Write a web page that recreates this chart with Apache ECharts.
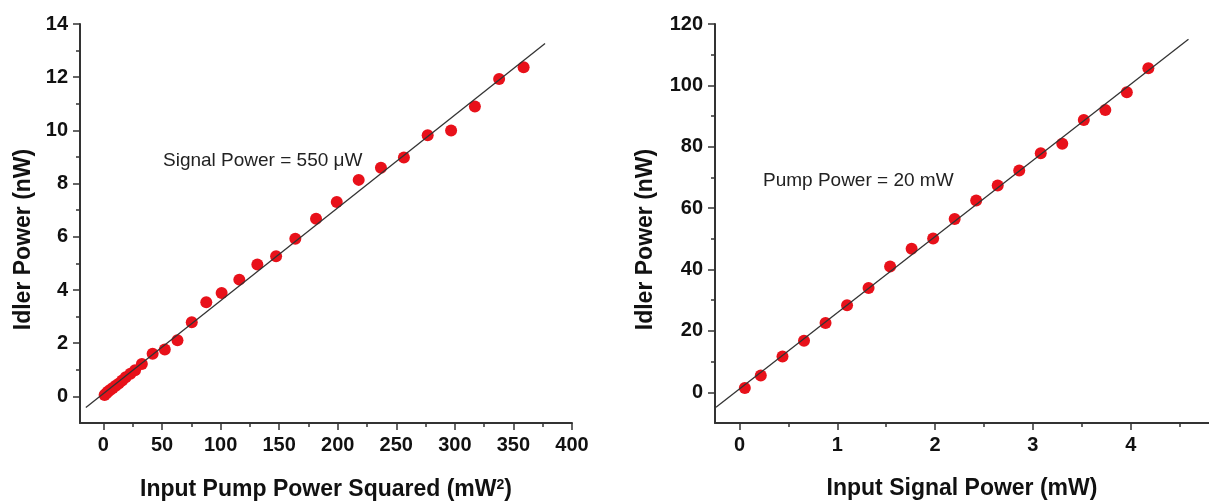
<!DOCTYPE html>
<html>
<head>
<meta charset="utf-8">
<script src="https://cdn.jsdelivr.net/npm/echarts@6/dist/echarts.min.js"></script>
<style>html,body{margin:0;padding:0;background:#fff}#c{width:1209px;height:503px}</style>
</head>
<body>
<div id="c"></div>
<script>
// Left panel: idler power vs input pump power squared
const pumpSqX = [1, 2.5, 4, 6, 8, 10.5, 13, 16, 19, 23, 27, 32.8, 42, 52.4, 63.2, 75.4, 87.8, 100.9, 116, 131.4, 147.4, 163.8, 181.5, 199.2, 217.9, 236.9, 256.5, 276.8, 296.8, 317.1, 337.8, 358.7];
const idlerL   = [0.05, 0.12, 0.18, 0.25, 0.32, 0.4, 0.48, 0.6, 0.72, 0.85, 0.98, 1.22, 1.6, 1.76, 2.11, 2.79, 3.54, 3.89, 4.39, 4.96, 5.27, 5.93, 6.68, 7.31, 8.14, 8.60, 8.98, 9.82, 10.0, 10.9, 11.93, 12.37];
const fitLX = [-15, 377];
const fitLY = [-0.42, 13.27];
// Right panel: idler power vs input signal power
const signalX = [0.055, 0.218, 0.44, 0.66, 0.88, 1.10, 1.32, 1.54, 1.76, 1.98, 2.20, 2.42, 2.64, 2.86, 3.08, 3.30, 3.52, 3.74, 3.96, 4.18];
const idlerR  = [1.4, 5.5, 11.7, 16.8, 22.6, 28.4, 34.0, 41.0, 46.8, 50.1, 56.5, 62.5, 67.4, 72.3, 77.9, 81.0, 88.7, 92.0, 97.8, 105.6];
const fitRX = [-0.24, 4.59];
const fitRY = [-4.9, 115];

// Tick labels
const xTicksL = [0, 50, 100, 150, 200, 250, 300, 350, 400];
const yTicksL = [0, 2, 4, 6, 8, 10, 12, 14];
const xTicksR = [0, 1, 2, 3, 4];
const yTicksR = [0, 20, 40, 60, 80, 100, 120];

const titleLX = 'Input Pump Power Squared (mW{sup|2})';
const titleRX = 'Input Signal Power (mW)';
const titleY = 'Idler Power (nW)';
const noteL = 'Signal Power = 550 μW';
const noteR = 'Pump Power = 20 mW';

const FONT = '"Liberation Sans", Arial, sans-serif';
const axisCol = '#333';

function minorOf(ticks, lo, hi) {
  const step = ticks[1] - ticks[0];
  const out = [];
  for (let i = -1; i < ticks.length; i++) {
    const v = (i < 0 ? ticks[0] - step : ticks[i]) + step / 2;
    if (v > lo && v < hi) out.push(v);
  }
  return out;
}

function mainAxis(isX, gi, min, max, ticks, name, gap) {
  const a = {
    type: 'value', gridIndex: gi, min: min, max: max,
    position: isX ? 'bottom' : 'left',
    name: name, nameLocation: 'middle', nameGap: gap,
    nameTextStyle: {fontFamily: FONT, fontWeight: 'bold', fontSize: 23, color: '#111',
      rich: {sup: {fontFamily: FONT, fontWeight: 'bold', fontSize: 14, color: '#111', verticalAlign: 'top', padding: [0, 0, 8, 0]}}},
    axisLine: {show: true, onZero: false, lineStyle: {color: axisCol, width: 2}},
    axisTick: {show: true, inside: false, length: 7, lineStyle: {color: axisCol, width: 1.5}, customValues: ticks},
    axisLabel: {fontFamily: FONT, fontWeight: 'bold', fontSize: 20, color: '#111', margin: 12, customValues: ticks},
    splitLine: {show: false}
  };
  if (!isX) {
    a.nameRotate = 90;
    a.nameTextStyle.padding = [0, 32, 0, 0];
  }
  return a;
}
function minorAxis(isX, gi, min, max, ticks) {
  return {
    type: 'value', gridIndex: gi, min: min, max: max,
    position: isX ? 'bottom' : 'left', offset: 0,
    axisLine: {show: false, onZero: false},
    axisTick: {show: true, inside: false, length: 4, lineStyle: {color: axisCol, width: 1.5}, customValues: minorOf(ticks, min, max)},
    axisLabel: {show: false},
    splitLine: {show: false}
  };
}

const chart = echarts.init(document.getElementById('c'), null, {renderer: 'canvas'});
chart.setOption({
  animation: false,
  backgroundColor: '#fff',
  grid: [
    {left: 80, width: 492, top: 24, height: 399, containLabel: false, outerBoundsMode: 'none'},
    {left: 715, width: 494, top: 24, height: 399, containLabel: false, outerBoundsMode: 'none'}
  ],
  xAxis: [
    mainAxis(true, 0, -20, 400, xTicksL, titleLX, 55),
    mainAxis(true, 1, -0.25, 4.8, xTicksR, titleRX, 54),
    minorAxis(true, 0, -20, 400, xTicksL),
    minorAxis(true, 1, -0.25, 4.8, xTicksR)
  ],
  yAxis: [
    mainAxis(false, 0, -1, 14, yTicksL, titleY, 45),
    mainAxis(false, 1, -10, 120, yTicksR, titleY, 58),
    minorAxis(false, 0, -1, 14, yTicksL),
    minorAxis(false, 1, -10, 120, yTicksR)
  ],
  series: [
    {type: 'line', xAxisIndex: 0, yAxisIndex: 0, data: fitLX.map((x, i) => [x, fitLY[i]]),
     symbol: 'none', lineStyle: {color: '#333', width: 1.3}, z: 3},
    {type: 'scatter', xAxisIndex: 0, yAxisIndex: 0, data: pumpSqX.map((x, i) => [x, idlerL[i]]),
     symbolSize: 12, itemStyle: {color: '#e8111a', opacity: 1}, z: 2},
    {type: 'line', xAxisIndex: 1, yAxisIndex: 1, data: fitRX.map((x, i) => [x, fitRY[i]]),
     symbol: 'none', lineStyle: {color: '#333', width: 1.3}, z: 3},
    {type: 'scatter', xAxisIndex: 1, yAxisIndex: 1, data: signalX.map((x, i) => [x, idlerR[i]]),
     symbolSize: 12, itemStyle: {color: '#e8111a', opacity: 1}, z: 2}
  ],
  graphic: [
    {type: 'text', left: 163, top: 151, style: {text: noteL, font: '19px ' + FONT, fill: '#222'}},
    {type: 'text', left: 763, top: 171, style: {text: noteR, font: '19px ' + FONT, fill: '#222'}}
  ]
});
</script>
</body>
</html>
